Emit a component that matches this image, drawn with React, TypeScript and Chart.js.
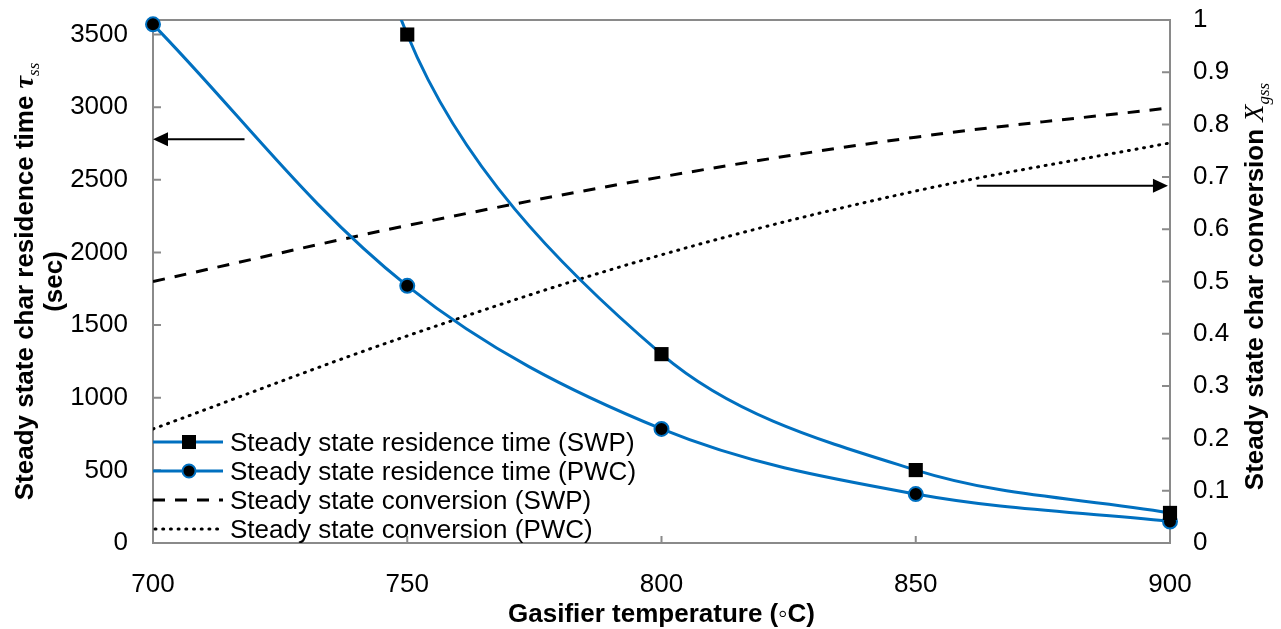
import React, { useEffect, useRef } from "react";
import { Chart, registerables } from "chart.js";

Chart.register(...registerables);

// ---------- data ----------
const temperatures = [700, 750, 800, 850, 900];
const residenceSWP = [9800, 3500, 1300, 502, 207];
const residencePWC = [3570, 1770, 785, 337, 148];
const conversionSWP = [0.5, 0.607, 0.7, 0.776, 0.832];
const conversionPWC = [0.218, 0.396, 0.551, 0.673, 0.765];

const seriesLabels = [
  "Steady state residence time (SWP)",
  "Steady state residence time (PWC)",
  "Steady state conversion (SWP)",
  "Steady state conversion (PWC)",
];

const xTicks = [700, 750, 800, 850, 900];
const leftTicks = [0, 500, 1000, 1500, 2000, 2500, 3000, 3500];
const rightTicks = [0, 0.1, 0.2, 0.3, 0.4, 0.5, 0.6, 0.7, 0.8, 0.9, 1];

// arrows in data coordinates
const arrowAxes = ["y", "y2"];
const arrowFrom = [718, 862];
const arrowTo = [700, 899.6];
const arrowValue = [2780, 0.683];

const xTitle = "Gasifier temperature (\u25E6C)";
const leftTitleMain = "Steady state char residence time ";
const leftTitleSecond = "(sec)";
const rightTitleMain = "Steady state char conversion ";

// ---------- style ----------
const BLUE = "#0070C0";
const AXIS = "#8a8a8a";
const SANS = "'Liberation Sans', Arial, sans-serif";
const SERIF = "'Liberation Serif', 'Times New Roman', serif";

type Run = { text: string; font: string; dy?: number };

function drawRuns(ctx: CanvasRenderingContext2D, runs: Run[], cx: number, cy: number, rotate: boolean, baselineOffset: number) {
  ctx.save();
  ctx.translate(cx, cy);
  if (rotate) ctx.rotate(-Math.PI / 2);
  let total = 0;
  const widths: number[] = [];
  for (const r of runs) {
    ctx.font = r.font;
    const w = ctx.measureText(r.text).width;
    widths.push(w);
    total += w;
  }
  let x = -total / 2;
  ctx.fillStyle = "#000";
  ctx.textBaseline = "alphabetic";
  ctx.textAlign = "left";
  runs.forEach((r, i) => {
    ctx.font = r.font;
    ctx.fillText(r.text, x, baselineOffset + (r.dy || 0));
    x += widths[i];
  });
  ctx.restore();
}

const decorPlugin = {
  id: "decor",
  beforeDatasetsDraw(chart: any) {
    const { ctx, chartArea: a, scales } = chart;
    ctx.save();
    ctx.strokeStyle = AXIS;
    ctx.lineWidth = 2;
    ctx.strokeRect(a.left, a.top, a.right - a.left, a.bottom - a.top);
    ctx.beginPath();
    for (const v of leftTicks) {
      const y = scales.y.getPixelForValue(v);
      ctx.moveTo(a.left, y);
      ctx.lineTo(a.left + 8, y);
    }
    for (const v of rightTicks) {
      const y = scales.y2.getPixelForValue(v);
      ctx.moveTo(a.right, y);
      ctx.lineTo(a.right - 8, y);
    }
    for (const v of xTicks) {
      const x = scales.x.getPixelForValue(v);
      ctx.moveTo(x, a.bottom);
      ctx.lineTo(x, a.bottom - 7);
    }
    ctx.stroke();
    ctx.restore();
  },
  afterDatasetsDraw(chart: any) {
    const { ctx, chartArea: a, scales } = chart;
    ctx.save();
    // arrows
    arrowAxes.forEach((axis, i) => {
      const y = scales[axis].getPixelForValue(arrowValue[i]);
      const x0 = scales.x.getPixelForValue(arrowFrom[i]);
      const x1 = scales.x.getPixelForValue(arrowTo[i]);
      const dir = Math.sign(x1 - x0);
      const head = 15;
      ctx.strokeStyle = "#000";
      ctx.fillStyle = "#000";
      ctx.lineWidth = 2;
      ctx.beginPath();
      ctx.moveTo(x0, y);
      ctx.lineTo(x1 - dir * head * 0.6, y);
      ctx.stroke();
      ctx.beginPath();
      ctx.moveTo(x1, y);
      ctx.lineTo(x1 - dir * head, y - 7);
      ctx.lineTo(x1 - dir * head, y + 7);
      ctx.closePath();
      ctx.fill();
    });

    // legend
    const rowOffsets = [101, 72, 43, 14];
    const lx0 = a.left;
    const lx1 = a.left + 70;
    const mx = a.left + 36;
    const tx = a.left + 77;
    rowOffsets.forEach((off, i) => {
      const y = a.bottom - off;
      ctx.save();
      ctx.lineWidth = 3;
      if (i < 2) {
        ctx.strokeStyle = BLUE;
        ctx.setLineDash([]);
      } else if (i === 2) {
        ctx.strokeStyle = "#000";
        ctx.setLineDash([12, 10]);
      } else {
        ctx.strokeStyle = "#000";
        ctx.lineCap = "round";
        ctx.setLineDash([1, 6.7]);
      }
      ctx.beginPath();
      ctx.moveTo(lx0 + (i === 3 ? 2 : 0), y);
      ctx.lineTo(lx1, y);
      ctx.stroke();
      ctx.restore();
      if (i === 0) {
        ctx.fillStyle = "#000";
        ctx.fillRect(mx - 7, y - 7, 14, 14);
      } else if (i === 1) {
        ctx.beginPath();
        ctx.arc(mx, y, 6.5, 0, Math.PI * 2);
        ctx.fillStyle = "#000";
        ctx.fill();
        ctx.lineWidth = 2;
        ctx.strokeStyle = BLUE;
        ctx.stroke();
      }
      ctx.fillStyle = "#000";
      ctx.font = `26px ${SANS}`;
      ctx.textBaseline = "alphabetic";
      ctx.textAlign = "left";
      ctx.fillText(seriesLabels[i], tx, y + 9);
    });
    ctx.restore();
  },
  afterDraw(chart: any) {
    const { ctx, chartArea: a } = chart;
    const bold = `bold 26px ${SANS}`;
    const cy = (a.top + a.bottom) / 2;
    // left title
    drawRuns(
      ctx,
      [
        { text: leftTitleMain, font: bold },
        { text: "\u03C4", font: `italic bold 28px ${SERIF}` },
        { text: "ss", font: `italic 17px ${SERIF}`, dy: 6 },
      ],
      24,
      cy,
      true,
      9
    );
    drawRuns(ctx, [{ text: leftTitleSecond, font: bold }], 53, cy, true, 9);
    // right title
    drawRuns(
      ctx,
      [
        { text: rightTitleMain, font: bold },
        { text: "X", font: `italic 28px ${SERIF}` },
        { text: "gss", font: `italic 17px ${SERIF}`, dy: 6 },
      ],
      1254,
      cy + 5,
      true,
      9
    );
    // x title
    drawRuns(ctx, [{ text: xTitle, font: bold }], (a.left + a.right) / 2, 613, false, 9);
  },
};

const tickFont = { family: SANS, size: 26 };
const noPadding = (s: any) => {
  s.paddingTop = 0;
  s.paddingBottom = 0;
  s.paddingLeft = 0;
  s.paddingRight = 0;
};
const fixedTicks = (vals: number[]) => (s: any) => {
  s.ticks = vals.map((v) => ({ value: v }));
};

export default function App() {
  const ref = useRef<HTMLCanvasElement>(null);
  useEffect(() => {
    const toPts = (vals: number[]) => temperatures.map((t, i) => ({ x: t, y: vals[i] }));
    const chart = new Chart(ref.current!, {
      type: "line",
      data: {
        datasets: [
          {
            label: seriesLabels[0],
            data: toPts(residenceSWP),
            yAxisID: "y",
            borderColor: BLUE,
            borderWidth: 3,
            pointStyle: "rect",
            pointRadius: 10,
            pointBackgroundColor: "#000",
            pointBorderColor: "#000",
            pointBorderWidth: 0,
            tension: 0.35,
            clip: { left: 12, right: 12, top: 0, bottom: 12 } as any,
            order: 1,
          },
          {
            label: seriesLabels[1],
            data: toPts(residencePWC),
            yAxisID: "y",
            borderColor: BLUE,
            borderWidth: 3,
            pointStyle: "circle",
            pointRadius: 7,
            pointBackgroundColor: "#000",
            pointBorderColor: BLUE,
            pointBorderWidth: 2,
            tension: 0.35,
            clip: false as any,
            order: 2,
          },
          {
            label: seriesLabels[2],
            data: toPts(conversionSWP),
            yAxisID: "y2",
            borderColor: "#000",
            borderWidth: 3,
            borderDash: [12, 10],
            pointRadius: 0,
            tension: 0.35,
            order: 3,
          },
          {
            label: seriesLabels[3],
            data: toPts(conversionPWC),
            yAxisID: "y2",
            borderColor: "#000",
            borderWidth: 3,
            borderDash: [1, 6.7],
            borderCapStyle: "round",
            pointRadius: 0,
            tension: 0.35,
            order: 4,
          },
        ],
      },
      options: {
        responsive: false,
        animation: false,
        events: [],
        layout: { padding: { top: 20, left: 0, right: 0, bottom: 0 } },
        plugins: { legend: { display: false }, tooltip: { enabled: false } },
        scales: {
          x: {
            type: "linear",
            min: 700,
            max: 900,
            grid: { display: false, drawTicks: false },
            border: { display: false },
            afterBuildTicks: fixedTicks(xTicks),
            ticks: { font: tickFont, color: "#000", padding: 26, callback: (v: any) => String(v) },
            afterFit: (s: any) => {
              s.height = 629 - 543;
              noPadding(s);
            },
          },
          y: {
            type: "linear",
            position: "left",
            min: 0,
            max: 3600,
            grid: { display: false, drawTicks: false },
            border: { display: false },
            afterBuildTicks: fixedTicks(leftTicks),
            ticks: { font: tickFont, color: "#000", padding: 25, callback: (v: any) => String(v) },
            afterFit: (s: any) => {
              s.width = 153;
              noPadding(s);
            },
          },
          y2: {
            type: "linear",
            position: "right",
            min: 0,
            max: 1,
            grid: { display: false, drawTicks: false },
            border: { display: false },
            afterBuildTicks: fixedTicks(rightTicks),
            ticks: {
              font: tickFont,
              color: "#000",
              padding: 23,
              callback: (v: any) => String(Number(Number(v).toFixed(1))),
            },
            afterFit: (s: any) => {
              s.width = 1281 - 1170;
              noPadding(s);
            },
          },
        },
      },
      plugins: [decorPlugin],
    } as any);
    return () => chart.destroy();
  }, []);
  return (
    <div style={{ position: "fixed", left: 0, top: 0, width: 1281, height: 629, background: "#fff" }}>
      <canvas ref={ref} width={1281} height={629} style={{ display: "block" }} />
    </div>
  );
}
